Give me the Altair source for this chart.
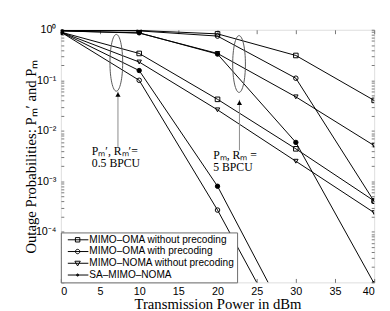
import altair as alt
import pandas as pd

# ---------------- data ----------------
power = [0, 10, 20, 30, 40]
schemes = ["MIMO–OMA without precoding", "MIMO–OMA with precoding",
           "MIMO–NOMA without precoding", "SA–MIMO–NOMA"]

# P_m (R_m = 5 BPCU) and P_m' (R_m' = 0.5 BPCU)
oma_nopre_pm = [0.97, 0.97, 0.83, 0.31, 0.040]
oma_nopre_pmp = [0.90, 0.34, 0.042, 0.0044, 4.1e-4]
oma_pre_pm = [0.97, 0.95, 0.75, 0.11, 4.0e-4]
oma_pre_pmp = [0.90, 0.10, 2.7e-4, 3.7e-7, None]
noma_nopre_pm = [0.95, 0.86, 0.34, 0.047, 0.0051]
noma_nopre_pmp = [0.90, 0.23, 0.026, 0.0025, 2.4e-4]
sa_pm = [0.95, 0.87, 0.33, 0.0059, 9.5e-6]
sa_pmp = [0.90, 0.156, 8.0e-4, 9.0e-7, None]

series_values = {
    (schemes[0], "Pm"): oma_nopre_pm, (schemes[0], "Pm'"): oma_nopre_pmp,
    (schemes[1], "Pm"): oma_pre_pm, (schemes[1], "Pm'"): oma_pre_pmp,
    (schemes[2], "Pm"): noma_nopre_pm, (schemes[2], "Pm'"): noma_nopre_pmp,
    (schemes[3], "Pm"): sa_pm, (schemes[3], "Pm'"): sa_pmp,
}

# annotations (ellipses, arrows, texts) in data coordinates
ellipse_x = [7.08, 22.75]
ellipse_y = [0.222, 0.21]
arrow_x = [7.29, 22.8]
arrow_base = [0.0048, 0.0041]
arrow_tip = [0.0596, 0.0411]
text_x = [3.95, 3.95, 19.45, 19.45]
text_y = [0.0040, 0.00228, 0.00335, 0.00190]
text_lines = ["Pₘ′, Rₘ′=", "0.5 BPCU", "Pₘ, Rₘ =", "5 BPCU"]

x_ticks = [0, 5, 10, 15, 20, 25, 30, 35, 40]
y_major = [1, 0.1, 0.01, 0.001, 0.0001]
y_all_ticks = [m * 10.0 ** k for k in range(-5, 0) for m in range(1, 10)] + [1]

rows = []
for (sch, met), vals in series_values.items():
    for p, v in zip(power, vals):
        if v is not None:
            rows.append({"power": p, "value": v, "scheme": sch,
                         "series": sch + " " + met})
df = pd.DataFrame(rows)

ell_df = pd.DataFrame({"x": ellipse_x, "y": ellipse_y})
arr_df = pd.DataFrame({"x": arrow_x, "y": arrow_base, "y2": arrow_tip})
txt_df = pd.DataFrame({"x": text_x, "y": text_y, "t": text_lines})


# ---------------- styling helpers ----------------
def ellipse_path(cx, cy, a, b):
    k = 0.5523
    return (f"M{cx+a},{cy} C{cx+a},{cy+k*b} {cx+k*a},{cy+b} {cx},{cy+b} "
            f"C{cx-k*a},{cy+b} {cx-a},{cy+k*b} {cx-a},{cy} "
            f"C{cx-a},{cy-k*b} {cx-k*a},{cy-b} {cx},{cy-b} "
            f"C{cx+k*a},{cy-b} {cx+a},{cy-k*b} {cx+a},{cy} Z")


cxm = 1.92
line_seg = "M-0.08,0L4.12,0"
legend_paths = [
    line_seg + f"M{cxm-0.45},-0.45L{cxm+0.45},-0.45L{cxm+0.45},0.45L{cxm-0.45},0.45Z",
    line_seg + ellipse_path(cxm, 0, 0.45, 0.45),
    line_seg + f"M{cxm-0.55},-0.42L{cxm+0.55},-0.42L{cxm},0.55Z",
    line_seg + ellipse_path(cxm, 0, 0.22, 0.22) + ellipse_path(cxm, 0, 0.08, 0.08),
]
ELLIPSE = ellipse_path(0, 0, 0.224, 1)

FRAME = "#6a6a6a"
TICK = "#777777"
W, H = 320, 258

xscale = alt.Scale(domain=[0, 40], nice=False, zero=False)
yscale = alt.Scale(type="log", domain=[1e-5, 1], nice=False)

label_expr = ("datum.value >= 0.5 ? '10⁰' : datum.value >= 0.05 ? '10⁻¹' : "
              "datum.value >= 0.005 ? '10⁻²' : datum.value >= 0.0005 ? '10⁻³' : '10⁻⁴'")

x_main_axis = alt.Axis(values=x_ticks, title="Transmission Power in dBm",
                       titleFont="Liberation Serif", titleFontSize=15,
                       titleFontWeight="normal", titleColor="black",
                       labelFont="Liberation Sans", labelFontSize=11, labelColor="black",
                       labelPadding=3, titlePadding=1, ticks=False, domain=False, grid=False)
y_main_axis = alt.Axis(values=y_major, labelExpr=label_expr,
                       title="Outage Probabilities: Pₘ′ and Pₘ",
                       titleFont="Liberation Serif", titleFontSize=15,
                       titleFontWeight="normal", titleColor="black",
                       labelFont="Liberation Sans", labelFontSize=11, labelColor="black",
                       labelPadding=5, titlePadding=-3, ticks=False, domain=False, grid=False)


def tick_axis(orient, values, size, off):
    return alt.Axis(orient=orient, values=values, labels=False, title=None,
                    domain=False, grid=False, ticks=True, tickSize=size,
                    tickColor=TICK, tickWidth=1, offset=off)


lines = alt.Chart(df).mark_line(clip=True, color="black", strokeWidth=1).encode(
    x=alt.X("power:Q", scale=xscale, axis=x_main_axis),
    y=alt.Y("value:Q", scale=yscale, axis=y_main_axis),
    detail="series:N",
)

points = alt.Chart(df).mark_point(clip=True, color="black", strokeWidth=1, opacity=1).encode(
    x=alt.X("power:Q", scale=xscale, axis=tick_axis("bottom", x_ticks, 4, -4)),
    y=alt.Y("value:Q", scale=yscale, axis=tick_axis("left", y_all_ticks, 3, -3)),
    shape=alt.Shape("scheme:N", scale=alt.Scale(domain=schemes,
                    range=["square", "circle", "triangle-down", "circle"]), legend=None),
    fill=alt.Fill("scheme:N", scale=alt.Scale(domain=schemes,
                  range=["transparent", "transparent", "transparent", "black"]), legend=None),
    size=alt.Size("scheme:N", scale=alt.Scale(domain=schemes, range=[22, 20, 26, 6]),
                  legend=None),
)

legend_layer = alt.Chart(df).transform_filter("false").mark_point(
    color="black", strokeWidth=1, opacity=1).encode(
    x=alt.X("power:Q", scale=xscale, axis=tick_axis("top", x_ticks, 4, -4)),
    y=alt.Y("value:Q", scale=yscale, axis=tick_axis("right", y_all_ticks, 3, -3)),
    shape=alt.Shape("scheme:N", scale=alt.Scale(domain=schemes, range=legend_paths),
                    legend=alt.Legend(title=None, orient="bottom-left", offset=0,
                                      fillColor="white", strokeColor=FRAME,
                                      padding=2, rowPadding=1, symbolSize=100,
                                      symbolStrokeWidth=1, symbolStrokeColor="black",
                                      labelOffset=16, labelFont="Liberation Sans",
                                      labelFontSize=10.3, labelColor="black",
                                      labelLimit=400)),
)

ellipses = alt.Chart(ell_df).mark_point(shape=ELLIPSE, size=3364, color="#555555",
                                        strokeWidth=1, filled=False, opacity=1).encode(
    x=alt.X("x:Q", scale=xscale, axis=None),
    y=alt.Y("y:Q", scale=yscale, axis=None),
)

arrow_lines = alt.Chart(arr_df).mark_rule(color="#8a8a8a", strokeWidth=1).encode(
    x=alt.X("x:Q", scale=xscale, axis=None),
    y=alt.Y("y:Q", scale=yscale, axis=None),
    y2="y2:Q",
)

arrow_heads = alt.Chart(arr_df).mark_point(shape="triangle-up", size=28, filled=True,
                                           color="black", opacity=1, yOffset=3).encode(
    x=alt.X("x:Q", scale=xscale, axis=None),
    y=alt.Y("y2:Q", scale=yscale, axis=None),
)

texts = alt.Chart(txt_df).mark_text(align="left", baseline="middle",
                                    font="Liberation Serif", fontSize=12,
                                    color="black").encode(
    x=alt.X("x:Q", scale=xscale, axis=None),
    y=alt.Y("y:Q", scale=yscale, axis=None),
    text="t:N",
)

chart = alt.layer(
    lines, points, legend_layer, ellipses, arrow_lines, arrow_heads, texts
).resolve_scale(
    shape="independent", fill="independent", size="independent"
).resolve_axis(
    x="independent", y="independent"
).properties(
    width=W, height=H,
    autosize=alt.AutoSizeParams(type="none"),
    padding={"left": 54, "top": 19, "right": 8, "bottom": 26},
).configure_view(
    stroke=FRAME, strokeWidth=1
).configure(background="white")

chart.save("out.html", embed_options={"renderer": "svg", "actions": False})
